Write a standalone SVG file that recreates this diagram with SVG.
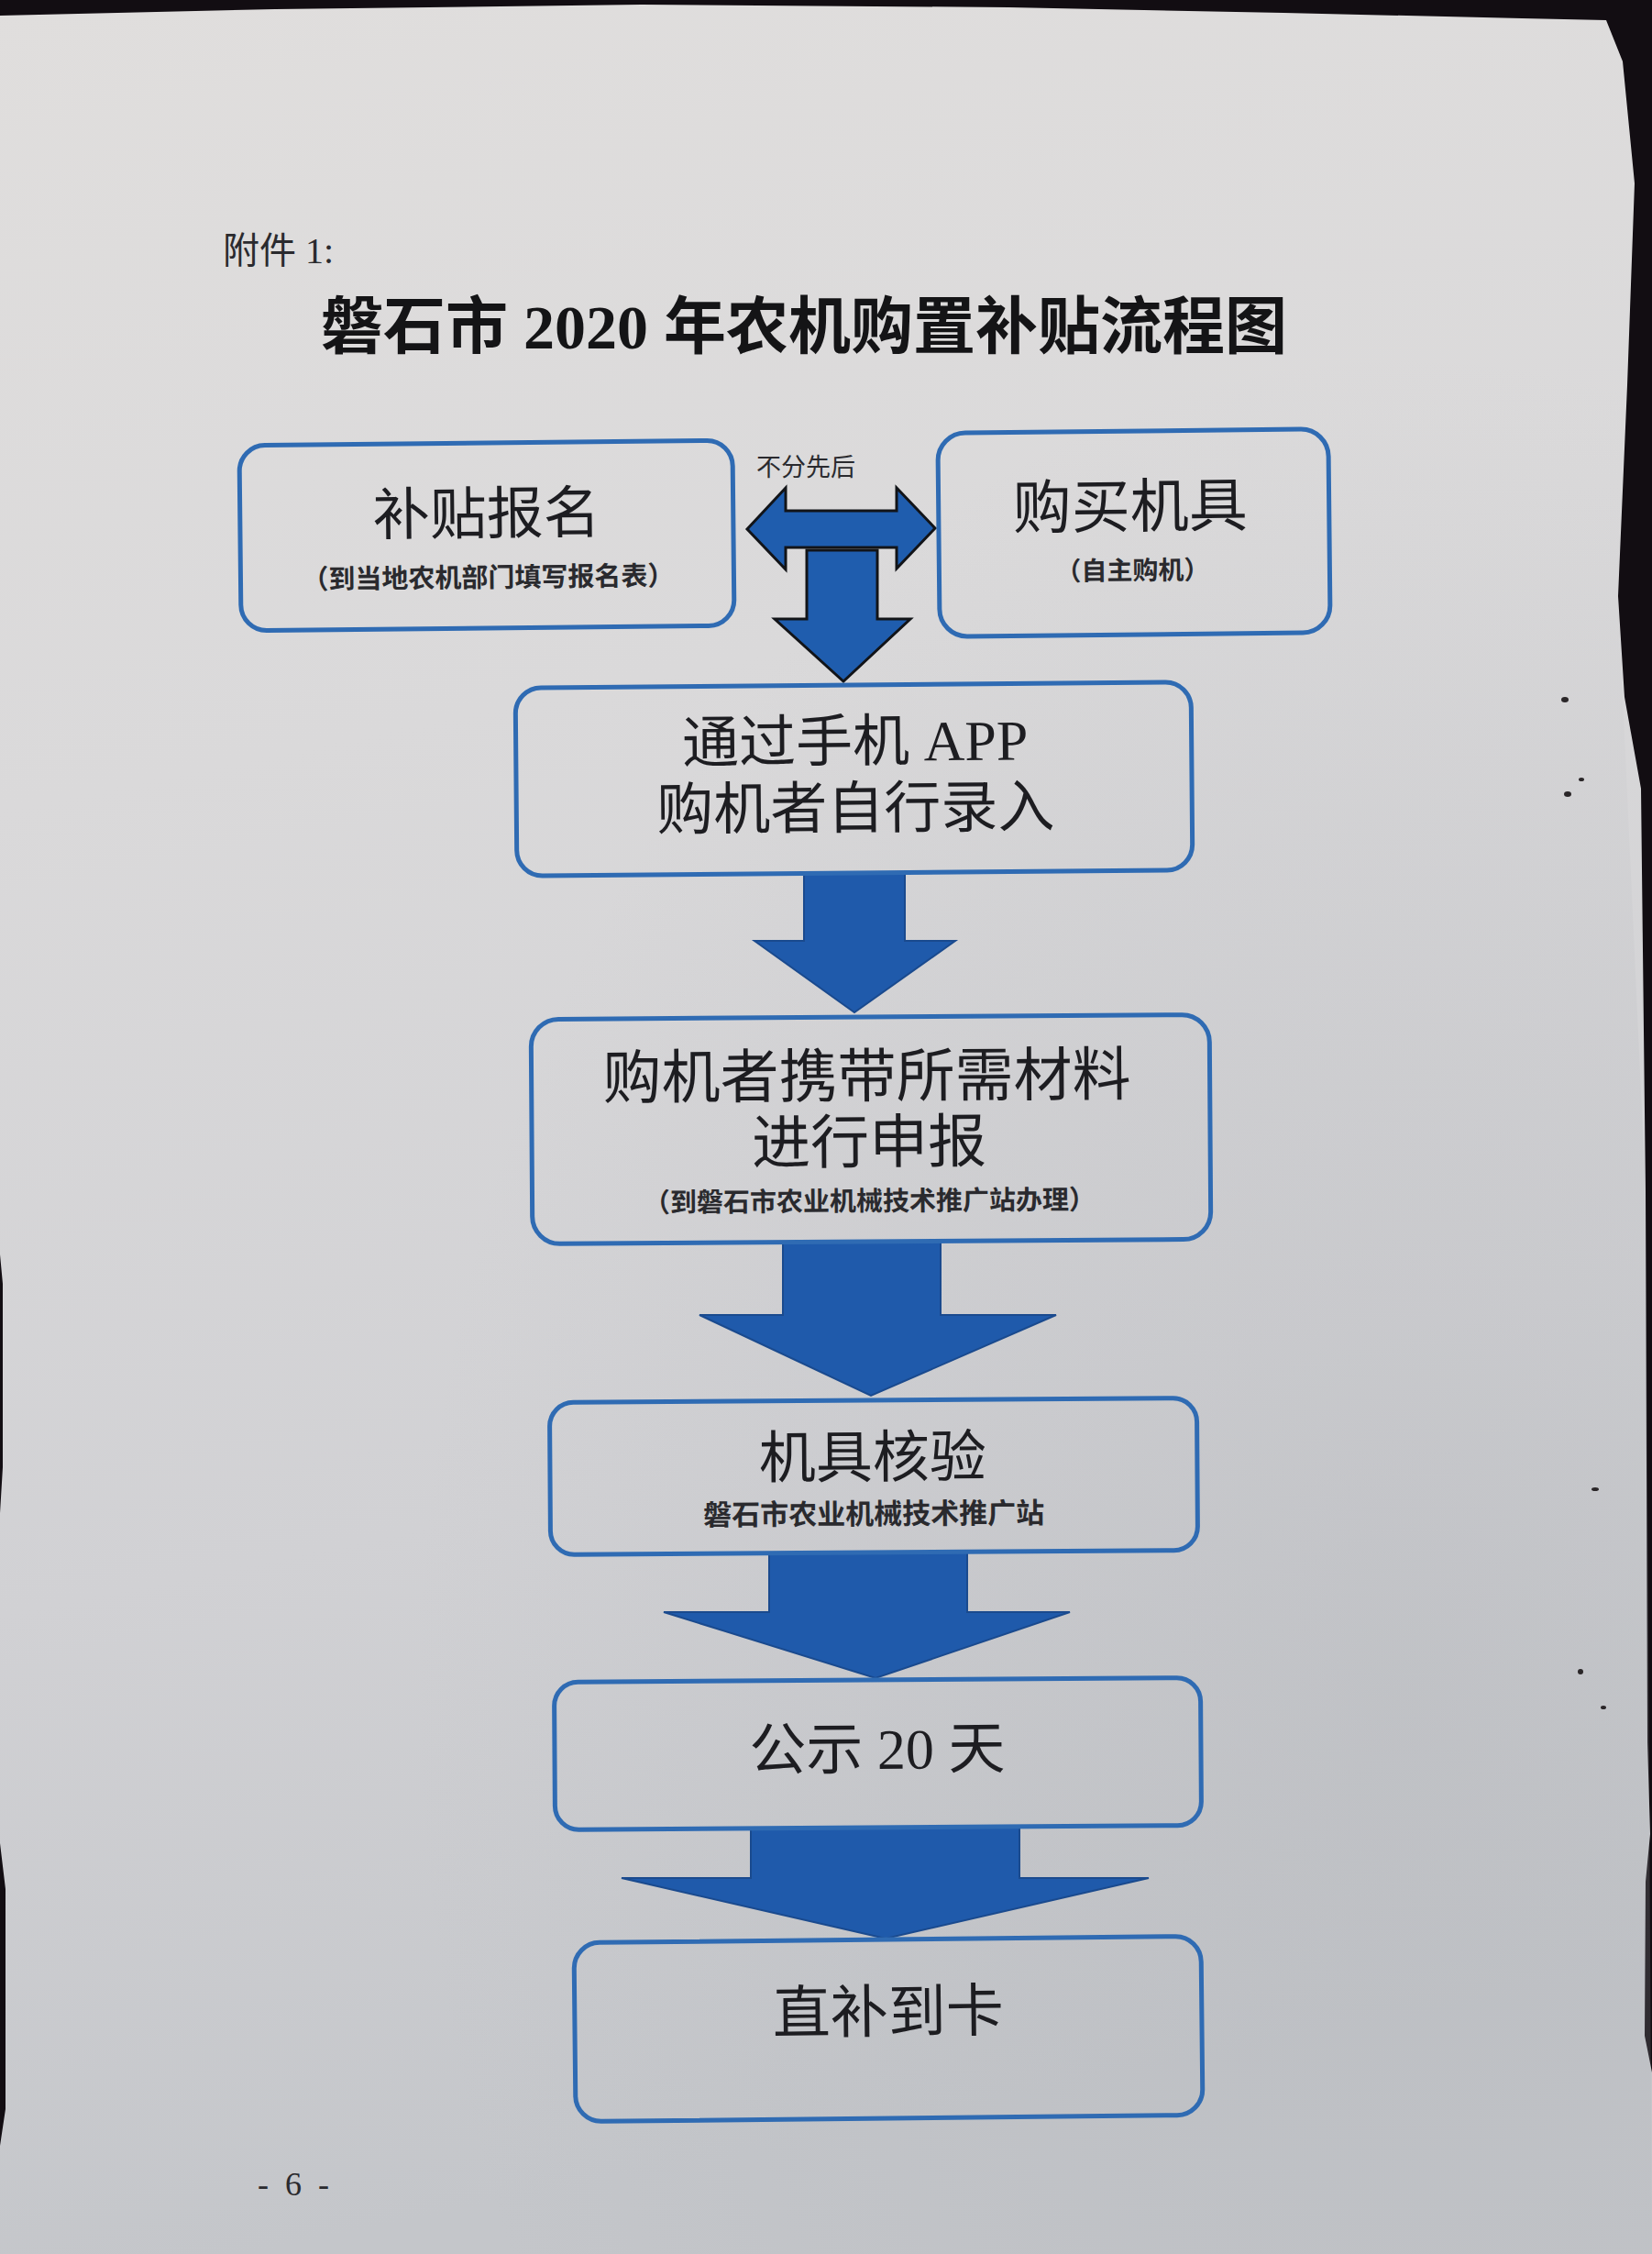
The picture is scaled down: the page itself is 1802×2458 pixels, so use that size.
<svg xmlns="http://www.w3.org/2000/svg" width="1802" height="2458" viewBox="0 0 1802 2458">
<defs>
<linearGradient id="paper" x1="0" y1="0" x2="0.15" y2="1">
<stop offset="0" stop-color="#e0dedd"/>
<stop offset="0.35" stop-color="#dad9da"/>
<stop offset="0.7" stop-color="#d1d1d4"/>
<stop offset="1" stop-color="#c4c6ca"/>
</linearGradient>
<radialGradient id="shade" cx="0.85" cy="0.75" r="0.6">
<stop offset="0" stop-color="#a9acb1" stop-opacity="0.3"/>
<stop offset="1" stop-color="#a9acb1" stop-opacity="0"/>
</radialGradient>
<style>
.box{fill:none;stroke:#2f6bb3;stroke-width:5}
.main{font-family:"Liberation Serif","Noto Sans CJK SC",serif;fill:#1d1d21;text-anchor:middle}
.sub{font-family:"Liberation Serif","Noto Sans CJK SC",serif;fill:#2a2a2e;text-anchor:middle;font-weight:bold}
.arrowA{fill:#1f5dae;stroke:#121418;stroke-width:3;stroke-linejoin:miter}
.arrowB{fill:#1f5aab;stroke:#1a4a8e;stroke-width:2}
</style>
</defs>
<rect x="0" y="0" width="1802" height="2458" fill="#120d12"/>
<polygon fill="url(#paper)" points="0,17 300,10 700,5 1100,8 1400,14 1660,20 1752,22 1770,67 1783,200 1775,420 1765,650 1772,760 1790,860 1795,1300 1797,1900 1800,2000 1795,2052 1794,2220 1802,2260 1802,2458 0,2458 0,2340 6,2300 6,2060 0,2010 0,1650 3,1600 3,1400 0,1368"/>
<polygon fill="url(#shade)" points="0,17 1752,22 1783,200 1765,650 1795,1300 1802,2458 0,2458"/>
<g fill="#2a2628">
<ellipse cx="1707" cy="763" rx="4" ry="3"/>
<ellipse cx="1710" cy="866" rx="4" ry="3"/>
<ellipse cx="1725" cy="850" rx="3" ry="2"/>
<ellipse cx="1740" cy="1624" rx="4" ry="2"/>
<ellipse cx="1724" cy="1823" rx="3" ry="3"/>
<ellipse cx="1749" cy="1862" rx="3" ry="2"/>
</g>

<text x="243" y="287" font-family="Liberation Serif,'Noto Sans CJK SC',serif" font-size="40" fill="#2a2a2e">附件 1:</text>
<text x="877" y="380" font-family="Liberation Serif,'Noto Sans CJK SC',serif" font-size="68" font-weight="bold" fill="#141416" text-anchor="middle">磐石市 2020 年农机购置补贴流程图</text>

<g id="connectors">
<polygon class="arrowA" points="815,577 857,532 857,557 978,557 978,532 1020,576 978,620 978,597 857,597 857,621"/>
<polygon class="arrowA" points="880,600 957,600 957,675 993,675 920,743 845,675 880,675"/>
<text x="879" y="519" font-family="Liberation Serif,'Noto Sans CJK SC',serif" font-size="27" fill="#2a2a2e" text-anchor="middle">不分先后</text>
<polygon class="arrowB" points="877,952 987,952 987,1026 1042,1026 932,1104 823,1026 877,1026"/>
<polygon class="arrowB" points="854,1354 1026,1354 1026,1434 1152,1434 950,1522 763,1434 854,1434"/>
<polygon class="arrowB" points="839,1693 1055,1693 1055,1758 1167,1758 955,1830 724,1758 839,1758"/>
<polygon class="arrowB" points="819,1993 1112,1993 1112,2048 1253,2048 966,2114 678,2048 819,2048"/>
</g>

<g id="node-baoming" transform="rotate(-0.6 531 584)">
<rect class="box" x="262" y="483" width="538" height="202" rx="28"/>
<text class="main" x="531" y="582" font-size="62">补贴报名</text>
<text class="sub" x="532" y="640" font-size="29">（到当地农机部门填写报名表）</text>
</g>

<g id="node-goumai" transform="rotate(-0.6 1237 581)">
<rect class="box" x="1024" y="470" width="426" height="222" rx="30"/>
<text class="main" x="1233" y="575" font-size="64">购买机具</text>
<text class="sub" x="1235" y="632" font-size="28">（自主购机）</text>
</g>

<g id="node-app" transform="rotate(-0.5 931 849)">
<rect class="box" x="563" y="747" width="737" height="205" rx="28"/>
<text class="main" x="933" y="830" font-size="62">通过手机 APP</text>
<text class="main" x="933" y="903" font-size="62">购机者自行录入</text>
</g>

<g id="node-shenbao" transform="rotate(-0.4 950 1231)">
<rect class="box" x="580" y="1109" width="740" height="245" rx="30"/>
<text class="main" x="946" y="1196" font-size="64">购机者携带所需材料</text>
<text class="main" x="948" y="1268" font-size="64">进行申报</text>
<text class="sub" x="948" y="1320" font-size="29">（到磐石市农业机械技术推广站办理）</text>
</g>

<g id="node-heyan" transform="rotate(-0.4 953 1610)">
<rect class="box" x="600" y="1527" width="706" height="166" rx="26"/>
<text class="main" x="952" y="1611" font-size="62">机具核验</text>
<text class="sub" x="953" y="1662" font-size="31">磐石市农业机械技术推广站</text>
</g>

<g id="node-gongshi" transform="rotate(-0.4 957 1912)">
<rect class="box" x="605" y="1832" width="705" height="161" rx="26"/>
<text class="main" x="957" y="1929" font-size="62">公示 20 天</text>
</g>

<g id="node-zhibu" transform="rotate(-0.6 969 2212)">
<rect class="box" x="627" y="2115" width="684" height="195" rx="28"/>
<text class="main" x="969" y="2216" font-size="63">直补到卡</text>
</g>

<text x="320" y="2394" font-family="Liberation Serif,serif" font-size="36" fill="#2a2a2e" text-anchor="middle" xml:space="preserve">-  6  -</text>
</svg>
